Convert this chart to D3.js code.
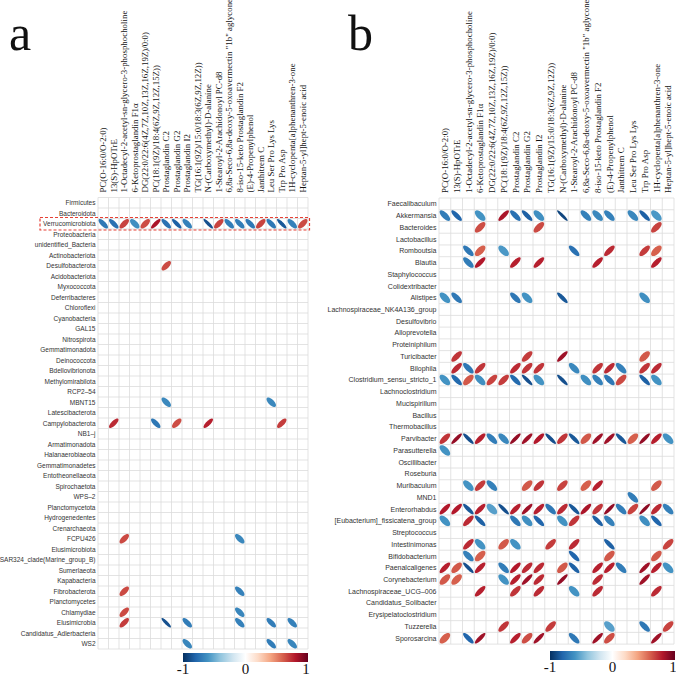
<!DOCTYPE html>
<html>
<head>
<meta charset="utf-8">
<script src="https://cdn.jsdelivr.net/npm/d3@7/dist/d3.min.js"></script>
<style>
  body { margin: 0; background: #fff; }
  svg { display: block; }
</style>
</head>
<body>
<svg id="chart" width="676" height="677"></svg>
<script>
// columns (metabolites), shared by both panels
const metabolites = [
  "PC(O-16:0/O-2:0)",
  "13(S)-HpOTrE",
  "1-Octadecyl-2-acetyl-sn-glycero-3-phosphocholine",
  "6-Ketoprostaglandin F1α",
  "DG(22:0/22:6(4Z,7Z,10Z,13Z,16Z,19Z)/0:0)",
  "PC(18:1(9Z)/18:4(6Z,9Z,12Z,15Z))",
  "Prostaglandin C2",
  "Prostaglandin G2",
  "Prostaglandin I2",
  "TG(16:1(9Z)/15:0/18:3(6Z,9Z,12Z))",
  "N-(Carboxymethyl)-D-alanine",
  "1-Stearoyl-2-Arachidonoyl PC-d8",
  "6,8a-Seco-6,8a-deoxy-5-oxoavermectin \"1b\" aglycone",
  "8-iso-15-keto Prostaglandin F2",
  "(E)-4-Propenylphenol",
  "Janthitrem C",
  "Leu Ser Pro Lys Lys",
  "Trp Pro Asp",
  "1H-cyclopenta[a]phenanthren-3-one",
  "Heptan-5-yl]hept-5-enoic acid"
];

// panel a rows (phyla)
const phyla = [
  "Firmicutes", "Bacteroidota", "Verrucomicrobiota", "Proteobacteria", "unidentified_Bacteria",
  "Actinobacteriota", "Desulfobacterota", "Acidobacteriota", "Myxococcota", "Deferribacteres",
  "Chloroflexi", "Cyanobacteria", "GAL15", "Nitrospirota", "Gemmatimonadota", "Deinococcota",
  "Bdellovibrionota", "Methylomirabilota", "RCP2–54", "MBNT15", "Latescibacterota",
  "Campylobacterota", "NB1–j", "Armatimonadota", "Halanaerobiaeota", "Gemmatimonadetes",
  "Entotheonellaeota", "Spirochaetota", "WPS–2", "Planctomycetota", "Hydrogenedentes",
  "Crenarchaeota", "FCPU426", "Elusimicrobiota", "SAR324_clade(Marine_group_B)", "Sumerlaeota",
  "Kapabacteria", "Fibrobacterota", "Planctomycetes", "Chlamydiae", "Elusimicrobia",
  "Candidatus_Adlerbacteria", "WS2"
];

// panel b rows (genera)
const genera = [
  "Faecalibaculum", "Akkermansia", "Bacteroides", "Lactobacillus", "Romboutsia", "Blautia",
  "Staphylococcus", "Colidextribacter", "Alistipes", "Lachnospiraceae_NK4A136_group",
  "Desulfovibrio", "Alloprevotella", "Proteiniphilum", "Turicibacter", "Bilophila",
  "Clostridium_sensu_stricto_1", "Lachnoclostridium", "Mucispirillum", "Bacillus",
  "Thermobacillus", "Parvibacter", "Parasutterella", "Oscillibacter", "Roseburia",
  "Muribaculum", "MND1", "Enterorhabdus", "[Eubacterium]_fissicatena_group", "Streptococcus",
  "Intestinimonas", "Bifidobacterium", "Paenalcaligenes", "Corynebacterium",
  "Lachnospiraceae_UCG–006", "Candidatus_Solibacter", "Erysipelatoclostridium",
  "Tuzzerella", "Sporosarcina"
];

// significant correlations: [column index, r]
const phylaCorr = {
  "Verrucomicrobiota": [[0,-.72],[1,-.75],[2,.68],[3,-.62],[4,.65],[5,.82],[6,-.75],[7,-.82],[8,-.68],
                        [10,-.88],[11,.68],[12,-.70],[13,-.70],[14,-.72],[15,.68],[16,-.72],[17,-.85],[18,-.68],[19,.66]],
  "Desulfobacterota": [[6,.66]],
  "MBNT15": [[6,-.65],[16,-.65]],
  "Campylobacterota": [[1,.75],[5,-.72],[7,.65],[10,.78],[17,.70]],
  "FCPU426": [[2,.66],[13,-.65]],
  "Fibrobacterota": [[2,.66],[13,-.68]],
  "Chlamydiae": [[2,.66],[13,-.66]],
  "Elusimicrobia": [[2,.70],[6,-.88],[8,-.70],[13,-.68],[16,-.70],[18,-.68]],
  "WS2": [[8,-.66],[16,-.70],[18,-.66]]
};

const generaCorr = {
  "Akkermansia": [[0,-.70],[1,-.80],[3,-.60],[5,.82],[6,-.75],[7,-.82],[8,-.62],[10,-.92],[12,-.68],
                  [13,-.65],[14,-.68],[16,-.65],[17,-.82],[18,-.58]],
  "Bacteroides": [[3,.65],[8,.66],[18,.68]],
  "Romboutsia": [[2,-.72],[3,.60],[5,-.58],[11,-.75],[14,.75],[17,.70],[18,.60]],
  "Blautia": [[2,-.70],[3,.80],[6,.78],[8,.78],[13,.78],[18,.78]],
  "Alistipes": [[0,-.60],[1,-.72],[6,-.72],[7,-.60],[10,-.85],[17,-.62]],
  "Turicibacter": [[1,.72],[7,.70],[10,.85],[17,.62]],
  "Bilophila": [[1,.75],[2,-.72],[3,.72],[6,.75],[7,.72],[8,.72],[11,-.65],[13,.72],[14,.75],[15,-.68],[17,.72],[18,.75]],
  "Clostridium_sensu_stricto_1": [[0,-.60],[1,-.78],[2,.62],[3,-.62],[4,.68],[5,.70],[6,-.78],[7,-.88],[8,-.60],
                                  [10,-.88],[12,-.62],[13,-.68],[14,-.72],[15,.66],[17,-.82],[18,-.60]],
  "Parvibacter": [[0,.72],[1,.88],[2,-.88],[3,.78],[4,-.70],[5,-.65],[6,.88],[7,.85],[8,.80],[9,-.88],
                  [10,.72],[11,-.85],[12,.62],[13,.85],[14,.85],[15,-.85],[16,.60],[17,.88],[18,.78],[19,-.60]],
  "Parasutterella": [[0,-.60]],
  "Muribaculum": [[2,-.60],[3,.70],[4,-.68],[7,.62],[8,.72],[10,.68],[12,.60],[13,.78],[18,.62]],
  "MND1": [[16,-.70]],
  "Enterorhabdus": [[0,.80],[1,.80],[2,-.85],[3,.78],[4,-.55],[5,-.88],[6,.78],[7,.85],[8,.78],[9,-.72],
                    [10,.75],[11,-.85],[12,.82],[13,.72],[14,.88],[15,-.70],[16,.68],[17,.90],[18,.75],[19,-.68]],
  "[Eubacterium]_fissicatena_group": [[0,-.60],[2,.75],[3,-.82],[6,-.72],[7,-.62],[8,-.80],[10,-.60],[11,.72],
                                      [13,-.82],[14,-.68],[17,-.62],[18,-.80]],
  "Intestinimonas": [[2,.75],[3,-.60],[5,.62],[6,-.60],[9,.70],[11,.75],[14,-.82],[19,.68]],
  "Bifidobacterium": [[2,-.68],[3,.60],[11,-.80],[14,.62],[18,.62]],
  "Paenalcaligenes": [[0,.78],[1,.62],[2,-.88],[3,.78],[5,-.70],[6,.80],[7,.75],[8,.75],[10,.62],[11,-.82],
                      [13,.78],[14,.78],[15,-.70],[17,.85],[18,.78],[19,-.60]],
  "Corynebacterium": [[0,.62],[1,.60],[5,-.60],[6,.78],[7,.85],[8,.75],[10,.88],[13,.75],[17,.85]],
  "Lachnospiraceae_UCG–006": [[3,.78],[6,.72],[8,.75],[11,-.60],[13,.75],[18,.75]],
  "Tuzzerella": [[5,.72],[9,.70],[14,-.55],[17,-.72],[19,.68]],
  "Sporosarcina": [[0,.60],[2,-.80],[3,.85],[6,.78],[7,.65],[8,.85],[11,-.72],[13,.85],[14,.65],[18,.85]]
};

const legendTicks = [-1, 0, 1];
const rdbu = ["#053061","#2166AC","#4393C3","#92C5DE","#D1E5F0","#FFFFFF",
              "#FDDBC7","#F4A582","#D6604D","#B2182B","#67001F"];

const svg = d3.select("#chart");
const color = d3.scaleLinear()
  .domain(rdbu.map((c, i) => -1 + i * 0.2))
  .range(rdbu);

// corrplot-like ellipse, centred at 0,0
function ellipsePath(r, w, h) {
  const a = Math.acos(r) / 2;
  const pts = d3.range(100).map(i => {
    const k = 2 * Math.PI * i / 100;
    return [Math.cos(k + a) / 2 * w * 0.9, -Math.cos(k - a) / 2 * h * 0.9];
  });
  return d3.line()(pts) + "Z";
}

function drawPanel(opts) {
  const g = svg.append("g");
  const x = d3.scaleBand().domain(d3.range(metabolites.length))
    .range([opts.x0, opts.x0 + opts.cw * metabolites.length]);
  const y = d3.scaleBand().domain(opts.rows)
    .range([opts.y0, opts.y0 + opts.ch * opts.rows.length]);

  // grid
  const grid = g.append("g").attr("stroke", "#dcdcdc").attr("stroke-width", 0.8);
  grid.selectAll("line.v").data(d3.range(metabolites.length + 1)).join("line")
    .attr("x1", i => opts.x0 + i * x.bandwidth()).attr("x2", i => opts.x0 + i * x.bandwidth())
    .attr("y1", y.range()[0]).attr("y2", y.range()[1]);
  grid.selectAll("line.h").data(d3.range(opts.rows.length + 1)).join("line")
    .attr("y1", i => opts.y0 + i * y.bandwidth()).attr("y2", i => opts.y0 + i * y.bandwidth())
    .attr("x1", x.range()[0]).attr("x2", x.range()[1]);

  // row labels
  g.append("g").selectAll("text").data(opts.rows).join("text")
    .attr("x", opts.x0 - 2.5)
    .attr("y", d => y(d) + y.bandwidth() / 2)
    .attr("dy", "0.35em")
    .attr("text-anchor", "end")
    .attr("font-family", "Liberation Sans, Arial, sans-serif")
    .attr("font-size", opts.rowFont)
    .attr("fill", "#333")
    .text(d => d);

  // column labels
  g.append("g").selectAll("text").data(metabolites).join("text")
    .attr("transform", (d, i) => `translate(${x(i) + x.bandwidth() / 2},${opts.y0 - 5}) rotate(-90)`)
    .attr("dy", "0.35em")
    .attr("font-family", "Liberation Serif, Times New Roman, serif")
    .attr("font-size", 8.9)
    .attr("fill", "#111")
    .text(d => d);

  // ellipses
  const cells = [];
  opts.rows.forEach(row => {
    (opts.data[row] || []).forEach(([c, r]) => cells.push({ row, c, r }));
  });
  g.append("g").selectAll("path").data(cells).join("path")
    .attr("transform", d => `translate(${x(d.c) + x.bandwidth() / 2},${y(d.row) + y.bandwidth() / 2})`)
    .attr("d", d => ellipsePath(d.r, x.bandwidth(), y.bandwidth()))
    .attr("fill", d => color(d.r));

  // colour bar
  const gradId = "grad" + opts.tag;
  const grad = svg.append("defs").append("linearGradient").attr("id", gradId);
  grad.selectAll("stop").data(rdbu).join("stop")
    .attr("offset", (c, i) => i / (rdbu.length - 1))
    .attr("stop-color", c => c);
  const lx = d3.scaleLinear().domain([-1, 1]).range([opts.barX0, opts.barX1]);
  g.append("rect")
    .attr("x", opts.barX0).attr("y", opts.barY)
    .attr("width", opts.barX1 - opts.barX0).attr("height", 9)
    .attr("fill", `url(#${gradId})`);
  g.append("g").selectAll("text").data(legendTicks).join("text")
    .attr("x", d => lx(d) + (d === 1 ? -2 : 0))
    .attr("y", opts.barY + 21)
    .attr("text-anchor", "middle")
    .attr("font-family", "Liberation Serif, Times New Roman, serif")
    .attr("font-size", 15)
    .attr("fill", "#111")
    .text(d => d === -1 ? "-1" : d);

  // panel letter
  svg.append("text")
    .attr("x", opts.letterX).attr("y", 50)
    .attr("font-family", "Liberation Serif, Times New Roman, serif")
    .attr("font-size", 50)
    .attr("fill", "#111")
    .text(opts.tag);

  return { x, y };
}

const pa = drawPanel({
  tag: "a", rows: phyla, data: phylaCorr, rowFont: 6.5,
  x0: 98, y0: 197.5, cw: 10.5, ch: 10.5,
  barX0: 183, barX1: 308, barY: 653, letterX: 9
});

drawPanel({
  tag: "b", rows: genera, data: generaCorr, rowFont: 7,
  x0: 439, y0: 198, cw: 11.75, ch: 11.74,
  barX0: 550, barX1: 675, barY: 651, letterX: 348
});

// highlight box around Verrucomicrobiota
svg.append("rect")
  .attr("x", 40).attr("y", pa.y("Verrucomicrobiota") - 1)
  .attr("width", 269.5).attr("height", pa.y.bandwidth() + 2)
  .attr("fill", "none")
  .attr("stroke", "#e64035")
  .attr("stroke-width", 1.2)
  .attr("stroke-dasharray", "3,2");
</script>
</body>
</html>
